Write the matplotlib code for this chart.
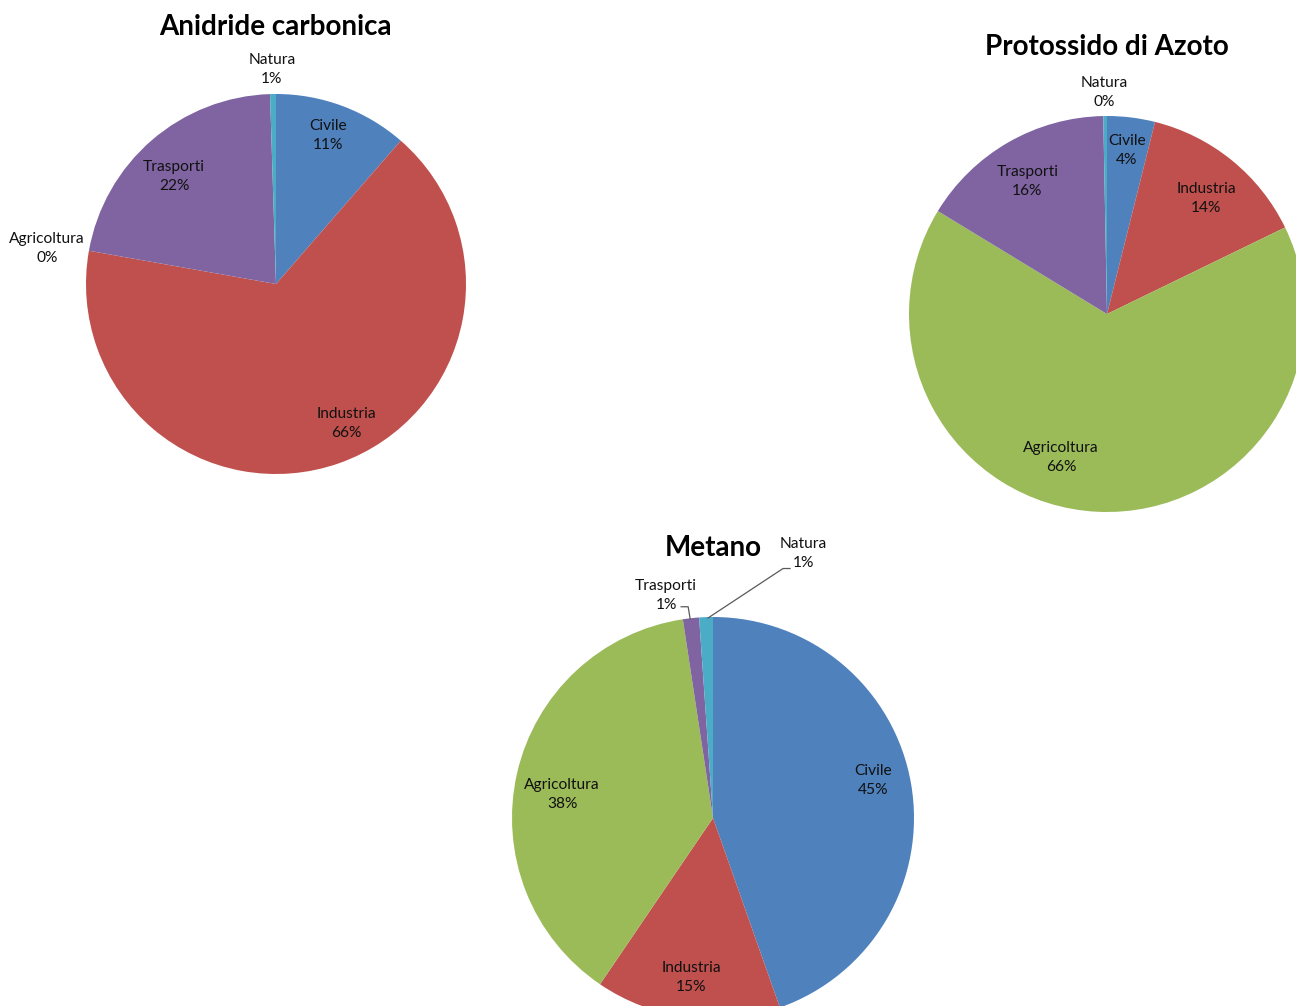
import numpy as np
import matplotlib.pyplot as plt

categories = ['Civile', 'Industria', 'Agricoltura', 'Trasporti', 'Natura']
co2 = [11.4, 66.4, 0.0, 21.7, 0.5]
n2o = [3.9, 13.9, 65.9, 16.0, 0.3]
ch4 = [44.6, 14.9, 38.1, 1.3, 1.1]
co2_pct = ['11%', '66%', '0%', '22%', '1%']
n2o_pct = ['4%', '14%', '66%', '16%', '0%']
ch4_pct = ['45%', '15%', '38%', '1%', '1%']

colors = ['#4F81BD', '#C0504D', '#9BBB59', '#8064A2', '#4BACC6']

plt.rcParams['font.family'] = ['Lato', 'DejaVu Sans']

W, H = 1296, 1006
fig = plt.figure(figsize=(W / 100, H / 100), dpi=100)
ax = fig.add_axes([0, 0, 1, 1])


def draw_pie(values, pct, cx, cy, r, title, title_xy, label_pos):
    # cy given from top of image
    c = (cx, H - cy)
    ax.pie(values, colors=colors, startangle=90, counterclock=False,
           center=c, radius=r, wedgeprops=dict(linewidth=0))
    ax.text(title_xy[0], H - title_xy[1], title, ha='center', va='center',
            fontsize=20, fontweight='bold', color='black')
    pos = []
    for cat, p, (ang, dist) in zip(categories, pct, label_pos):
        a = np.deg2rad(90 - ang)
        x = c[0] + dist * r * np.cos(a)
        y = c[1] + dist * r * np.sin(a)
        ax.text(x, y, cat + '\n' + p, ha='center', va='center',
                fontsize=11.2, linespacing=1.45, color='#111111')
        pos.append((x, y))
    return c, pos


# (angle clockwise from top, distance in radii)
draw_pie(co2, co2_pct, 276, 284, 190, 'Anidride carbonica', (275, 27),
         [(19.2, 0.83), (153.3, 0.82), (278.7, 1.22), (316.6, 0.78), (-1.1, 1.13)])
draw_pie(n2o, n2o_pct, 1107, 314, 198, 'Protossido di Azoto', (1107, 47),
         [(7.0, 0.83), (40.5, 0.77), (197.7, 0.76), (329.0, 0.78), (-0.6, 1.12)])
c, pos = draw_pie(ch4, ch4_pct, 713, 818, 201, 'Metano', (713, 548),
                  [(76.7, 0.82), (187.8, 0.80), (279.0, 0.76), (-11.9, 1.13), (18.8, 1.39)])

# leader lines for small Metano slices
lc = '#595959'
tx, ty = pos[3]
ax.plot([tx + 15, tx + 22, tx + 24], [ty - 11, ty - 11, H - 619], color=lc, lw=0.9)
nx, ny = pos[4]
ax.plot([nx - 13, nx - 20, c[0] - 5], [ny - 15, ny - 15, H - 618], color=lc, lw=0.9)

ax.set_xlim(0, W)
ax.set_ylim(0, H)
ax.set_aspect('equal')
ax.axis('off')

fig.savefig('out.png', dpi=100)
